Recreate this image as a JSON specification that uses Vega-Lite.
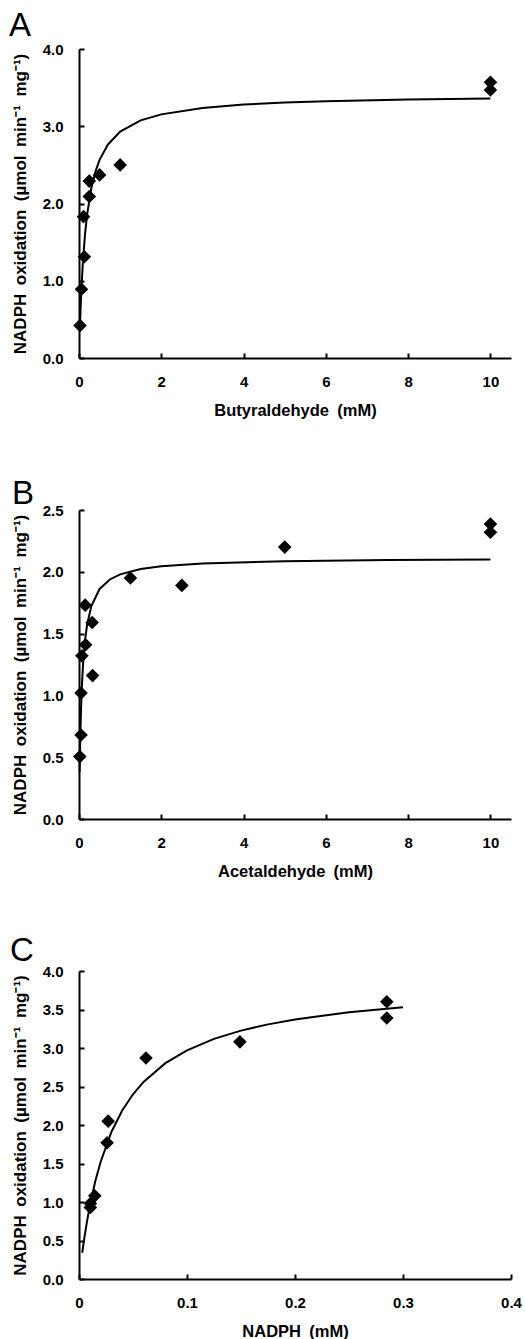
{
  "$schema": "https://vega.github.io/schema/vega-lite/v6.json",
  "padding": {"top": 10, "left": 9, "right": 0, "bottom": 0},
  "background": "white",
  "bounds": "flush",
  "spacing": 152,
  "config": {
    "view": {"stroke": null},
    "axis": {
      "grid": false,
      "domainColor": "black",
      "domainWidth": 2,
      "tickColor": "black",
      "tickWidth": 2,
      "tickSize": -5,
      "labelFont": "Liberation Sans",
      "labelFontSize": 15,
      "labelFontWeight": "bold",
      "labelColor": "black",
      "labelPadding": 21,
      "labelFlush": false,
      "labelOverlap": false,
      "titleFont": "Liberation Sans",
      "titleFontWeight": "bold",
      "titleColor": "black"
    },
    "axisX": {"titleFontSize": 16.5, "labelOverlap": false},
    "axisY": {"titleFontSize": 17, "labelOverlap": false},
    "title": {
      "font": "Liberation Sans",
      "fontSize": 33,
      "fontWeight": "normal",
      "color": "black",
      "anchor": "start",
      "frame": "group",
      "baseline": "alphabetic",
      "offset": 0
    }
  },
  "vconcat": [
    {
      "width": 432,
      "height": 309,
      "title": {"text": "A", "dx": -70, "dy": 5},
      "encoding": {
        "x": {"field": "x", "type": "quantitative", "scale": {"domain": [0, 10.5], "nice": false, "zero": false},
              "axis": {"values": [0, 2, 4, 6, 8, 10], "labelOverlap": false, "title": "Butyraldehyde\u2002(mM)", "titlePadding": 13}},
        "y": {"field": "y", "type": "quantitative", "scale": {"domain": [0, 4], "nice": false},
              "axis": {"values": [0, 1, 2, 3, 4], "format": ".1f", "labelOverlap": false, "title": "NADPH\u2002oxidation\u2002(µmol\u2002min⁻¹\u2002mg⁻¹)", "titlePadding": 13}}
      },
      "layer": [
        {
          "data": {"values": [
            {"x": 0.02, "y": 0.367}, {"x": 0.04, "y": 0.663}, {"x": 0.06, "y": 0.907}, {"x": 0.08, "y": 1.109},
            {"x": 0.1, "y": 1.284}, {"x": 0.15, "y": 1.623}, {"x": 0.2, "y": 1.866}, {"x": 0.3, "y": 2.2},
            {"x": 0.4, "y": 2.414}, {"x": 0.5, "y": 2.565}, {"x": 0.7, "y": 2.761}, {"x": 1.0, "y": 2.93},
            {"x": 1.5, "y": 3.076}, {"x": 2.0, "y": 3.154}, {"x": 3.0, "y": 3.237}, {"x": 4.0, "y": 3.28},
            {"x": 5.0, "y": 3.306}, {"x": 6.0, "y": 3.324}, {"x": 8.0, "y": 3.347}, {"x": 10.0, "y": 3.36}
          ]},
          "mark": {"type": "line", "color": "black", "strokeWidth": 2, "clip": false}
        },
        {
          "data": {"values": [
            {"x": 0.025, "y": 0.42}, {"x": 0.06, "y": 0.89}, {"x": 0.13, "y": 1.31}, {"x": 0.11, "y": 1.83},
            {"x": 0.25, "y": 2.09}, {"x": 0.25, "y": 2.29}, {"x": 0.5, "y": 2.37}, {"x": 1.0, "y": 2.5},
            {"x": 10, "y": 3.57}, {"x": 10, "y": 3.47}
          ]},
          "mark": {"type": "point", "shape": "diamond", "filled": true, "size": 185, "color": "black", "opacity": 1, "clip": false}
        }
      ]
    },
    {
      "width": 432,
      "height": 309,
      "title": {"text": "B", "dx": -67, "dy": 12},
      "encoding": {
        "x": {"field": "x", "type": "quantitative", "scale": {"domain": [0, 10.5], "nice": false, "zero": false},
              "axis": {"values": [0, 2, 4, 6, 8, 10], "labelOverlap": false, "title": "Acetaldehyde\u2002(mM)", "titlePadding": 13}},
        "y": {"field": "y", "type": "quantitative", "scale": {"domain": [0, 2.5], "nice": false},
              "axis": {"values": [0, 0.5, 1, 1.5, 2, 2.5], "format": ".1f", "labelOverlap": false, "title": "NADPH\u2002oxidation\u2002(µmol\u2002min⁻¹\u2002mg⁻¹)", "titlePadding": 13}}
      },
      "layer": [
        {
          "data": {"values": [
            {"x": 0.015, "y": 0.382}, {"x": 0.02, "y": 0.48}, {"x": 0.03, "y": 0.647}, {"x": 0.05, "y": 0.896},
            {"x": 0.075, "y": 1.109}, {"x": 0.1, "y": 1.258}, {"x": 0.15, "y": 1.455}, {"x": 0.2, "y": 1.578},
            {"x": 0.3, "y": 1.723}, {"x": 0.5, "y": 1.861}, {"x": 0.75, "y": 1.938}, {"x": 1.0, "y": 1.979},
            {"x": 1.5, "y": 2.022}, {"x": 2.0, "y": 2.045}, {"x": 3.0, "y": 2.067}, {"x": 5.0, "y": 2.086},
            {"x": 7.5, "y": 2.095}, {"x": 10.0, "y": 2.1}
          ]},
          "mark": {"type": "line", "color": "black", "strokeWidth": 2, "clip": false}
        },
        {
          "data": {"values": [
            {"x": 0.02, "y": 0.505}, {"x": 0.05, "y": 0.68}, {"x": 0.05, "y": 1.02}, {"x": 0.07, "y": 1.32},
            {"x": 0.16, "y": 1.41}, {"x": 0.15, "y": 1.73}, {"x": 0.32, "y": 1.59}, {"x": 0.33, "y": 1.16},
            {"x": 1.25, "y": 1.95}, {"x": 2.5, "y": 1.89}, {"x": 5, "y": 2.2}, {"x": 10, "y": 2.386}, {"x": 10, "y": 2.32}
          ]},
          "mark": {"type": "point", "shape": "diamond", "filled": true, "size": 185, "color": "black", "opacity": 1, "clip": false}
        }
      ]
    },
    {
      "width": 432,
      "height": 308,
      "title": {"text": "C", "dx": -69, "dy": 8},
      "encoding": {
        "x": {"field": "x", "type": "quantitative", "scale": {"domain": [0, 0.4], "nice": false, "zero": false},
              "axis": {"values": [0, 0.1, 0.2, 0.3, 0.4], "labelOverlap": false, "labelExpr": "datum.value === 0 ? '0' : format(datum.value, '.1f')", "title": "NADPH\u2002(mM)", "titlePadding": 13}},
        "y": {"field": "y", "type": "quantitative", "scale": {"domain": [0, 4], "nice": false},
              "axis": {"values": [0, 0.5, 1, 1.5, 2, 2.5, 3, 3.5, 4], "labelExpr": "format(datum.value, '.1f')", "labelOverlap": false, "labelSeparation": 0, "title": "NADPH\u2002oxidation\u2002(µmol\u2002min⁻¹\u2002mg⁻¹)", "titlePadding": 13}}
      },
      "layer": [
        {
          "data": {"values": [
            {"x": 0.003, "y": 0.341}, {"x": 0.005, "y": 0.538}, {"x": 0.0075, "y": 0.755}, {"x": 0.01, "y": 0.945},
            {"x": 0.015, "y": 1.265}, {"x": 0.02, "y": 1.52}, {"x": 0.03, "y": 1.91}, {"x": 0.04, "y": 2.188},
            {"x": 0.05, "y": 2.399}, {"x": 0.06, "y": 2.563}, {"x": 0.08, "y": 2.803}, {"x": 0.1, "y": 2.97},
            {"x": 0.125, "y": 3.118}, {"x": 0.15, "y": 3.226}, {"x": 0.175, "y": 3.307}, {"x": 0.2, "y": 3.371},
            {"x": 0.25, "y": 3.465}, {"x": 0.3, "y": 3.53}
          ]},
          "mark": {"type": "line", "color": "black", "strokeWidth": 2, "clip": false}
        },
        {
          "data": {"values": [
            {"x": 0.0105, "y": 0.98}, {"x": 0.0105, "y": 0.93}, {"x": 0.0146, "y": 1.08}, {"x": 0.026, "y": 1.77},
            {"x": 0.027, "y": 2.05}, {"x": 0.062, "y": 2.87}, {"x": 0.149, "y": 3.08}, {"x": 0.285, "y": 3.6}, {"x": 0.285, "y": 3.39}
          ]},
          "mark": {"type": "point", "shape": "diamond", "filled": true, "size": 185, "color": "black", "opacity": 1, "clip": false}
        }
      ]
    }
  ]
}
